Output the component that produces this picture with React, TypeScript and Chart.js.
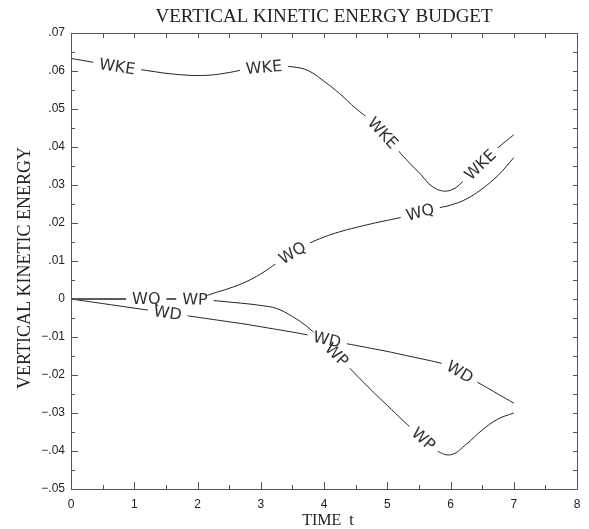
import React, { useEffect, useRef } from "react";
import { Chart, registerables } from "chart.js";

Chart.register(...registerables);

const times = [0, 0.25, 0.5, 0.75, 1, 1.25, 1.5, 1.75, 2, 2.25, 2.5, 2.75, 3, 3.25, 3.5, 3.75, 4, 4.25, 4.5, 4.75, 5, 5.25, 5.5, 5.75, 6, 6.25, 6.5, 6.75, 7];

const wke = [0.0633, 0.0626, 0.0618, 0.0611, 0.0606, 0.06, 0.0594, 0.059, 0.0588, 0.059, 0.0596, 0.0604, 0.0609, 0.0612, 0.0611, 0.0601, 0.0573, 0.054, 0.0502, 0.0468, 0.0425, 0.0376, 0.0333, 0.0292, 0.0286, 0.0318, 0.0358, 0.0398, 0.0432];
const wq = [0, 0, 0, 0, 0, 0, 0, 0, 0.0002, 0.0015, 0.0028, 0.0044, 0.0066, 0.0094, 0.0121, 0.0145, 0.0163, 0.0177, 0.0188, 0.0198, 0.0207, 0.0216, 0.0228, 0.0238, 0.0247, 0.0263, 0.029, 0.0325, 0.0372];
const wd = [0, -0.0006, -0.0012, -0.0018, -0.0024, -0.003, -0.0036, -0.0042, -0.0048, -0.0054, -0.006, -0.0066, -0.0073, -0.008, -0.0087, -0.0095, -0.0105, -0.0114, -0.0122, -0.013, -0.0138, -0.0147, -0.0156, -0.0165, -0.0177, -0.0202, -0.0226, -0.025, -0.0274];
const wp = [0, 0, 0, 0, 0, 0, 0, 0, -0.0001, -0.0004, -0.0008, -0.0012, -0.0017, -0.0025, -0.0046, -0.0075, -0.0115, -0.0155, -0.0198, -0.024, -0.028, -0.032, -0.0358, -0.0395, -0.041, -0.0382, -0.0345, -0.0316, -0.03];

const seriesNames = ["WKE", "WQ", "WD", "WP"];
const seriesValues = [wke, wq, wd, wp];
const wkeLabelAt = [0.73, 3.05, 4.93, 6.47];
const wqLabelAt = [1.19, 3.5, 5.52];
const wdLabelAt = [1.53, 4.05, 6.15];
const wpLabelAt = [1.96, 4.2, 5.57];
const labelPositions = [wkeLabelAt, wqLabelAt, wdLabelAt, wpLabelAt];

const xTickLabels = ["0", "1", "2", "3", "4", "5", "6", "7", "8"];
const yTickLabels = ["\u2212.05", "\u2212.04", "\u2212.03", "\u2212.02", "\u2212.01", "0", ".01", ".02", ".03", ".04", ".05", ".06", ".07"];

const chartTitle = "VERTICAL KINETIC ENERGY BUDGET";
const xTitle = "TIME  t";
const yTitle = "VERTICAL KINETIC ENERGY";

function interp(arr: number[], x: number): number {
  if (x <= times[0]) return arr[0];
  for (let i = 1; i < times.length; i++) {
    if (x <= times[i]) {
      const t = (x - times[i - 1]) / (times[i] - times[i - 1]);
      return arr[i - 1] + t * (arr[i] - arr[i - 1]);
    }
  }
  return arr[arr.length - 1];
}

const curveLabelPlugin = {
  id: "curveLabels",
  afterDatasetsDraw(chart: any) {
    const { ctx, scales } = chart;
    const xs = scales.x;
    const ys = scales.y;
    ctx.save();
    ctx.font = '16px "DejaVu Sans"';
    const items: any[] = [];
    seriesNames.forEach((name, si) => {
      labelPositions[si].forEach((lx) => {
        const arr = seriesValues[si];
        const px = xs.getPixelForValue(lx);
        const py = ys.getPixelForValue(interp(arr, lx));
        const d = 0.15;
        const ax = xs.getPixelForValue(lx - d);
        const ay = ys.getPixelForValue(interp(arr, lx - d));
        const bx = xs.getPixelForValue(lx + d);
        const by = ys.getPixelForValue(interp(arr, lx + d));
        const ang = Math.atan2(by - ay, bx - ax);
        const w = ctx.measureText(name).width;
        items.push({ name, px, py, ang, w });
      });
    });
    ctx.fillStyle = "#ffffff";
    items.forEach((it) => {
      ctx.save();
      ctx.translate(it.px, it.py);
      ctx.rotate(it.ang);
      ctx.fillRect(-it.w / 2 - 6, -4, it.w + 12, 8);
      ctx.restore();
    });
    ctx.fillStyle = "#333333";
    ctx.textAlign = "center";
    ctx.textBaseline = "middle";
    items.forEach((it) => {
      ctx.save();
      ctx.translate(it.px, it.py);
      ctx.rotate(it.ang);
      ctx.fillText(it.name, 0, 1);
      ctx.restore();
    });
    ctx.restore();
  },
  afterDraw(chart: any) {
    const { ctx, chartArea, scales } = chart;
    const xs = scales.x;
    const ys = scales.y;
    const { left, right, top, bottom } = chartArea;
    ctx.save();
    ctx.strokeStyle = "#555555";
    ctx.lineWidth = 1;
    ctx.beginPath();
    ctx.rect(Math.round(left) + 0.5, Math.round(top) + 0.5, Math.round(right - left), Math.round(bottom - top));
    ctx.stroke();
    ctx.beginPath();
    for (let k = 0; k <= 24; k++) {
      const v = -0.05 + k * 0.005;
      const y = Math.round(ys.getPixelForValue(v)) + 0.5;
      const major = k % 2 === 0;
      ctx.moveTo(left, y);
      ctx.lineTo(left + (major ? 7 : 4), y);
      ctx.moveTo(right, y);
      ctx.lineTo(right - 4, y);
    }
    for (let k = 0; k <= 16; k++) {
      const v = k * 0.5;
      const x = Math.round(xs.getPixelForValue(v)) + 0.5;
      const major = k % 2 === 0;
      ctx.moveTo(x, bottom);
      ctx.lineTo(x, bottom - (major ? 7 : 4));
      ctx.moveTo(x, top);
      ctx.lineTo(x, top + 5);
    }
    ctx.stroke();

    ctx.fillStyle = "#222222";
    ctx.textAlign = "center";
    ctx.textBaseline = "alphabetic";
    const cx = (left + right) / 2;
    ctx.font = '19px "Liberation Serif"';
    ctx.fillText(chartTitle, cx, 22);
    ctx.font = '16px "Liberation Serif"';
    ctx.fillText(xTitle, cx + 4, 525);
    ctx.save();
    ctx.translate(30, 268);
    ctx.rotate(-Math.PI / 2);
    ctx.font = '18px "Liberation Serif"';
    ctx.fillText(yTitle, 0, 0);
    ctx.restore();
    ctx.restore();
  },
};

export default function App() {
  const ref = useRef<HTMLCanvasElement>(null);
  useEffect(() => {
    if (!ref.current) return;
    const datasets = seriesNames.map((name, si) => ({
      label: name,
      data: times.map((t, i) => ({ x: t, y: seriesValues[si][i] })),
      borderColor: "#222222",
      borderWidth: 1,
      pointRadius: 0,
      fill: false,
      tension: 0.4,
    }));
    const chart = new Chart(ref.current, {
      type: "line",
      data: { datasets },
      options: {
        animation: false,
        responsive: false,
        layout: { padding: { top: 33, right: 12, left: 0, bottom: 0 } },
        plugins: { legend: { display: false }, tooltip: { enabled: false }, title: { display: false } },
        scales: {
          x: {
            type: "linear",
            min: 0,
            max: 8,
            grid: { display: false, drawTicks: false },
            border: { display: false },
            ticks: {
              stepSize: 1,
              padding: 8,
              color: "#222222",
              font: { family: '"Liberation Sans"', size: 12 },
              callback: (_v: any, i: number) => xTickLabels[i],
              maxRotation: 0,
            },
            afterFit: (s: any) => {
              s.height = 40;
            },
          },
          y: {
            type: "linear",
            min: -0.05,
            max: 0.07,
            grid: { display: false, drawTicks: false },
            border: { display: false },
            ticks: {
              stepSize: 0.01,
              padding: 6,
              color: "#222222",
              font: { family: '"Liberation Sans"', size: 12 },
              callback: (_v: any, i: number) => yTickLabels[i],
            },
            afterFit: (s: any) => {
              s.width = 71;
            },
          },
        },
      },
      plugins: [curveLabelPlugin],
    });
    return () => chart.destroy();
  }, []);
  return (
    <div style={{ position: "fixed", left: 0, top: 0, width: 589, height: 529, background: "#fff" }}>
      <canvas ref={ref} width={589} height={529} style={{ display: "block" }} />
    </div>
  );
}
